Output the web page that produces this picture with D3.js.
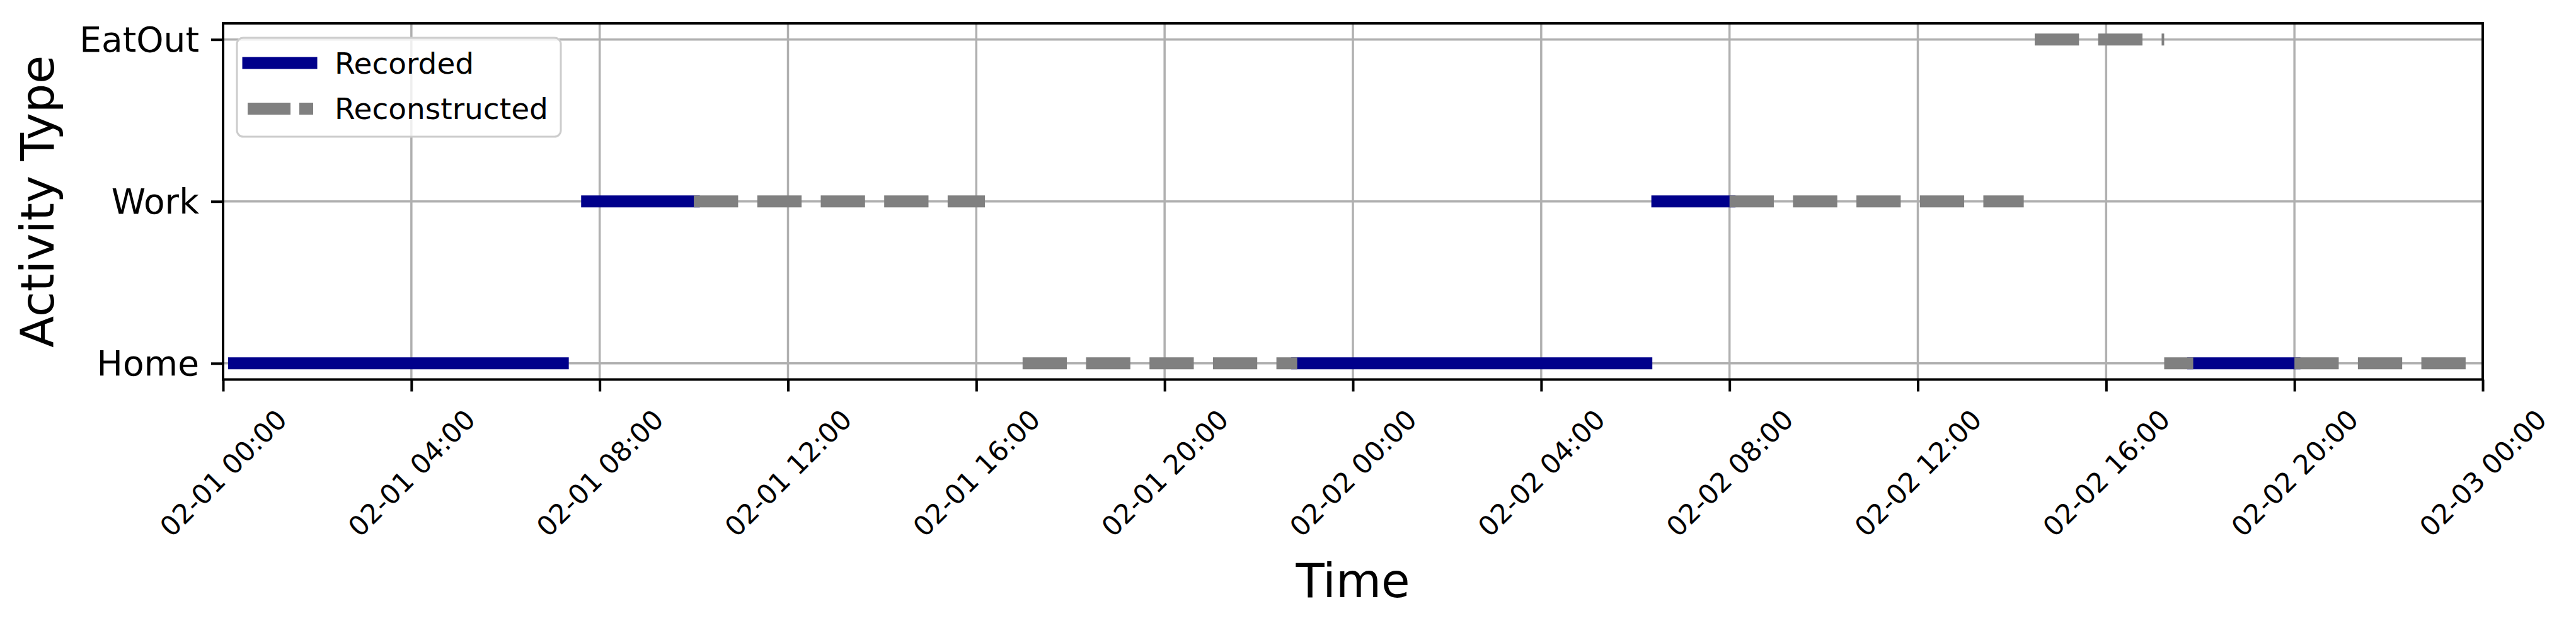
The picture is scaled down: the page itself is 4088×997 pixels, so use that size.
<!DOCTYPE html>
<html>
<head>
<meta charset="utf-8">
<script src="https://cdn.jsdelivr.net/npm/d3@7"></script>
<style>
  body { margin: 0; background: #fff; }
  svg { display: block; font-family: "DejaVu Sans", sans-serif; }
</style>
</head>
<body>
<div id="chart"></div>
<script>
// Activity rows, bottom to top
const categories = ["Home", "Work", "EatOut"];

// Recorded segments (solid)
const recordedActivity = ["Home", "Work", "Home", "Work", "Home"];
const recordedStart = ["02-01 00:14", "02-01 07:44", "02-01 22:49", "02-02 06:28", "02-02 17:51"];
const recordedEnd = ["02-01 07:13", "02-01 10:00", "02-02 06:14", "02-02 08:00", "02-02 20:00"];

// Reconstructed segments (dashed)
const reconActivity = ["Work", "Home", "Work", "EatOut", "Home", "Home"];
const reconStart = ["02-01 10:00", "02-01 16:59", "02-02 08:00", "02-02 14:29", "02-02 17:14", "02-02 20:00"];
const reconEnd = ["02-01 16:11", "02-01 22:49", "02-02 14:15", "02-02 17:14", "02-02 17:51", "02-03 00:00"];

const timeRange = ["02-01 00:00", "02-03 00:00"];
const legendLabels = ["Recorded", "Reconstructed"];

const width = 4088, height = 997;
const margin = { top: 37, right: 148, bottom: 394.5, left: 354 };
const lineW = 19;
const dash = "70.3 30.4";

const parse = d3.timeParse("%m-%d %H:%M");

const svg = d3.select("#chart")
  .append("svg")
  .attr("width", width)
  .attr("height", height);

svg.append("rect").attr("width", width).attr("height", height).attr("fill", "#fff");

const x = d3.scaleTime()
  .domain(timeRange.map(parse))
  .range([margin.left, width - margin.right]);

const y = d3.scaleLinear()
  .domain([-0.1, categories.length - 1 + 0.1])
  .range([height - margin.bottom, margin.top]);

const yOf = (name) => y(categories.indexOf(name));

// Gridlines
const ticks = x.ticks(d3.timeHour.every(4));
const grid = svg.append("g").attr("stroke", "#b0b0b0").attr("stroke-width", 3.5);
grid.selectAll(".vg")
  .data(ticks)
  .enter()
  .append("line")
  .attr("x1", (d) => x(d)).attr("x2", (d) => x(d))
  .attr("y1", margin.top).attr("y2", height - margin.bottom);
grid.selectAll(".hg")
  .data(categories)
  .enter()
  .append("line")
  .attr("x1", margin.left).attr("x2", width - margin.right)
  .attr("y1", (d) => yOf(d)).attr("y2", (d) => yOf(d));

// Recorded segments
const recorded = recordedActivity.map((a, i) => ({ a, s: parse(recordedStart[i]), e: parse(recordedEnd[i]) }));
svg.append("g")
  .selectAll("line")
  .data(recorded)
  .enter()
  .append("line")
  .attr("x1", (d) => x(d.s)).attr("x2", (d) => x(d.e))
  .attr("y1", (d) => yOf(d.a)).attr("y2", (d) => yOf(d.a))
  .attr("stroke", "darkblue")
  .attr("stroke-width", lineW)
  .attr("stroke-linecap", "square");

// Reconstructed segments, drawn on top
const recon = reconActivity.map((a, i) => ({ a, s: parse(reconStart[i]), e: parse(reconEnd[i]) }));
svg.append("g")
  .selectAll("line")
  .data(recon)
  .enter()
  .append("line")
  .attr("x1", (d) => x(d.s)).attr("x2", (d) => x(d.e))
  .attr("y1", (d) => yOf(d.a)).attr("y2", (d) => yOf(d.a))
  .attr("stroke", "gray")
  .attr("stroke-width", lineW)
  .attr("stroke-dasharray", dash)
  .attr("stroke-linecap", "butt");

// Axes frame
svg.append("rect")
  .attr("x", margin.left).attr("y", margin.top)
  .attr("width", width - margin.left - margin.right)
  .attr("height", height - margin.top - margin.bottom)
  .attr("fill", "none")
  .attr("stroke", "#000")
  .attr("stroke-width", 4);

// X axis ticks
const xAxis = svg.append("g")
  .attr("transform", `translate(0,${height - margin.bottom})`)
  .call(d3.axisBottom(x).tickValues(ticks).tickSize(19).tickFormat(d3.timeFormat("%m-%d %H:%M")));
xAxis.select(".domain").remove();
xAxis.selectAll(".tick line").attr("stroke", "#000").attr("stroke-width", 4);
xAxis.selectAll(".tick text")
  .attr("font-size", 43)
  .attr("font-family", "DejaVu Sans")
  .attr("fill", "#000")
  .attr("text-anchor", "middle")
  .attr("dominant-baseline", "central")
  .attr("y", 0).attr("dy", null)
  .each(function () {
    const b = this.getBBox();
    const half = (b.width + b.height) * Math.SQRT1_2 / 2;
    d3.select(this).attr("transform", `translate(0,${19 + 19 + half}) rotate(-45)`);
  });

// Y axis ticks
const yAxis = svg.append("g")
  .attr("transform", `translate(${margin.left},0)`)
  .call(d3.axisLeft(y).tickValues(d3.range(categories.length)).tickSize(19).tickPadding(19).tickFormat((i) => categories[i]));
yAxis.select(".domain").remove();
yAxis.selectAll(".tick line").attr("stroke", "#000").attr("stroke-width", 4);
yAxis.selectAll(".tick text")
  .attr("font-size", 55)
  .attr("font-family", "DejaVu Sans")
  .attr("fill", "#000")
  .attr("dy", null)
  .attr("dominant-baseline", "central");

// Axis labels
svg.append("text")
  .attr("x", (margin.left + width - margin.right) / 2)
  .attr("y", 948)
  .attr("text-anchor", "middle")
  .attr("font-size", 74)
  .text("Time");

svg.append("text")
  .attr("transform", `translate(85,${(margin.top + height - margin.bottom) / 2}) rotate(-90)`)
  .attr("text-anchor", "middle")
  .attr("font-size", 73)
  .text("Activity Type");

// Legend
const legend = svg.append("g");
legend.append("rect")
  .attr("x", 376).attr("y", 60)
  .attr("width", 514).attr("height", 157)
  .attr("rx", 10)
  .attr("fill", "#fff").attr("fill-opacity", 0.8)
  .attr("stroke", "#cccccc").attr("stroke-width", 3);

const legendY = [100, 172.5];
legend.append("line")
  .attr("x1", 394).attr("x2", 494)
  .attr("y1", legendY[0]).attr("y2", legendY[0])
  .attr("stroke", "darkblue").attr("stroke-width", lineW)
  .attr("stroke-linecap", "square");
legend.append("line")
  .attr("x1", 393).attr("x2", 497)
  .attr("y1", legendY[1]).attr("y2", legendY[1])
  .attr("stroke", "gray").attr("stroke-width", lineW)
  .attr("stroke-dasharray", "68 14 22 14");
legend.selectAll("text")
  .data(legendLabels)
  .enter()
  .append("text")
  .attr("x", 531)
  .attr("y", (d, i) => legendY[i])
  .attr("dominant-baseline", "central")
  .attr("font-size", 47)
  .text((d) => d);
</script>
</body>
</html>
